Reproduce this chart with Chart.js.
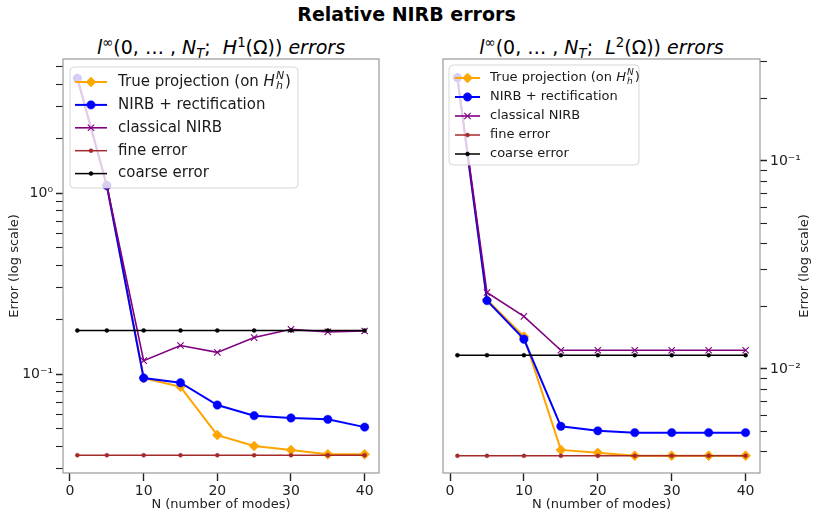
<!DOCTYPE html>
<html>
<head>
<meta charset="utf-8">
<script src="https://cdn.jsdelivr.net/npm/chart.js@4.4.1/dist/chart.umd.min.js"></script>
<style>
  html, body { margin: 0; padding: 0; background: #fff; }
  #wrap { position: relative; width: 813px; height: 518px; overflow: hidden; font-family: "DejaVu Sans", sans-serif; color: #000; }
  canvas { position: absolute; top: 0; }
  #c1 { left: 0; }
  #c2 { left: 410px; }
  .suptitle { position: absolute; left: 0; width: 813px; top: 3px; text-align: center; font-weight: bold; font-size: 19px; line-height: 22px; }
  .sub { position: absolute; top: 35px; text-align: center; font-size: 19px; line-height: 24px; white-space: nowrap; }
  .sub i { font-style: italic; }
  .sub sup { font-size: 70%; vertical-align: 0; position: relative; top: -0.55em; line-height: 0; }
  .sub sub { font-size: 70%; vertical-align: 0; position: relative; top: 0.3em; line-height: 0; }
</style>
</head>
<body>
<div id="wrap">
  <div class="suptitle">Relative NIRB errors</div>
  <div class="sub" style="left:63px;width:316px;"><i>l</i><sup>∞</sup>(0, … , <i>N<sub>T</sub></i>;&nbsp; <i>H</i><sup>1</sup>(Ω)) <i>errors</i></div>
  <div class="sub" style="left:443px;width:317px;"><i>l</i><sup>∞</sup>(0, … , <i>N<sub>T</sub></i>;&nbsp; <i>L</i><sup>2</sup>(Ω)) <i>errors</i></div>
  <canvas id="c1" width="410" height="518"></canvas>
  <canvas id="c2" width="403" height="518"></canvas>
</div>
<script>
// Number of modes N used for each run
const modes = [1, 5, 10, 15, 20, 25, 30, 35, 40];

// l-infinity in time, H1 in space
const trueH1    = [4.3, 1.1, 0.095, 0.085, 0.046, 0.040, 0.038, 0.036, 0.036];
const nirbH1    = [4.3, 1.1, 0.095, 0.0895, 0.0674, 0.0589, 0.0572, 0.0562, 0.0509];
const classicH1 = [4.3, 1.1, 0.1186, 0.1438, 0.1317, 0.159, 0.1766, 0.171, 0.173];
const fineH1    = [0.0356, 0.0356, 0.0356, 0.0356, 0.0356, 0.0356, 0.0356, 0.0356, 0.0356];
const coarseH1  = [0.174, 0.174, 0.174, 0.174, 0.174, 0.174, 0.174, 0.174, 0.174];

// l-infinity in time, L2 in space
const trueL2    = [0.251, 0.0215, 0.0143, 0.00408, 0.00395, 0.00383, 0.00383, 0.00383, 0.00383];
const nirbL2    = [0.251, 0.0213, 0.0139, 0.0053, 0.00504, 0.00494, 0.00494, 0.00494, 0.00494];
const classicL2 = [0.251, 0.0233, 0.0179, 0.0123, 0.0123, 0.0123, 0.0123, 0.0123, 0.0123];
const fineL2    = [0.00382, 0.00382, 0.00382, 0.00382, 0.00382, 0.00382, 0.00382, 0.00382, 0.00382];
const coarseL2  = [0.01164, 0.01164, 0.01164, 0.01164, 0.01164, 0.01164, 0.01164, 0.01164, 0.01164];

const seriesLabels = ['True projection (on H_h^N)', 'NIRB + rectification', 'classical NIRB', 'fine error', 'coarse error'];

// Axis ticks
const xTicks = [0, 10, 20, 30, 40];
const yTicksH1 = [0.03, 0.04, 0.05, 0.06, 0.07, 0.08, 0.09, 0.1, 0.2, 0.3, 0.4, 0.5, 0.6, 0.7, 0.8, 0.9, 1, 2, 3, 4, 5];
const yTicksL2 = [0.004, 0.005, 0.006, 0.007, 0.008, 0.009, 0.01, 0.02, 0.03, 0.04, 0.05, 0.06, 0.07, 0.08, 0.09, 0.1, 0.2, 0.3];
const decadeLabels = { '0': '10⁰', '-1': '10⁻¹', '-2': '10⁻²' };

const FONT = '"DejaVu Sans", sans-serif';

function isDecade(v) {
  const l = Math.log10(v);
  return Math.abs(l - Math.round(l)) < 1e-9;
}

function pts(ys) { return modes.map((n, i) => ({ x: n, y: ys[i] })); }

const styles = [
  { color: '#FFA500', lineW: 2,   pointStyle: 'rectRot', radius: 5,   pbw: 0.5, order: 5 },
  { color: '#0000FF', lineW: 2,   pointStyle: 'circle',  radius: 4.2, pbw: 0.5, order: 4 },
  { color: '#800080', lineW: 1.6, pointStyle: 'crossRot',radius: 4.5, pbw: 1.1, order: 3 },
  { color: '#A52A2A', lineW: 1.5, pointStyle: 'circle',  radius: 2,   pbw: 0.5, order: 2 },
  { color: '#000000', lineW: 1.5, pointStyle: 'circle',  radius: 2,   pbw: 0.5, order: 1 }
];

function makeDatasets(series) {
  return series.map((ys, i) => {
    const s = styles[i];
    return {
      label: seriesLabels[i],
      data: pts(ys),
      borderColor: s.color,
      backgroundColor: s.color,
      borderWidth: s.lineW,
      pointStyle: s.pointStyle,
      pointRadius: s.radius,
      pointBorderWidth: s.pbw,
      pointBorderColor: s.color,
      pointBackgroundColor: s.color,
      tension: 0,
      order: s.order
    };
  });
}

// Gray frame around the plotting area
const framePlugin = {
  id: 'frame',
  beforeDatasetsDraw(chart) {
    const { ctx, chartArea: a } = chart;
    ctx.save();
    ctx.strokeStyle = '#9a9a9a';
    ctx.lineWidth = 1.2;
    ctx.strokeRect(a.left, a.top, a.right - a.left, a.bottom - a.top);
    ctx.restore();
  }
};

// Rotated y axis title (reads bottom to top on both sides)
const yTitlePlugin = {
  id: 'yTitle',
  afterDraw(chart, args, opts) {
    const { ctx, chartArea: a } = chart;
    ctx.save();
    ctx.translate(opts.x, (a.top + a.bottom) / 2);
    ctx.rotate(-Math.PI / 2);
    ctx.font = '13px ' + FONT;
    ctx.fillStyle = '#222';
    ctx.textAlign = 'center';
    ctx.textBaseline = 'middle';
    ctx.fillText(opts.text, 0, 0);
    ctx.restore();
  }
};

function drawMarker(ctx, s, x, y) {
  ctx.save();
  ctx.fillStyle = s.color;
  ctx.strokeStyle = s.color;
  ctx.lineWidth = s.pbw;
  Chart.helpers.drawPoint(ctx, { pointStyle: s.pointStyle, radius: s.radius, rotation: 0, borderWidth: s.pbw }, x, y);
  ctx.restore();
}

// Semi-transparent legend box drawn over the data inside the plot area
const boxLegendPlugin = {
  id: 'boxLegend',
  afterDatasetsDraw(chart, args, o) {
    const { ctx, chartArea: a } = chart;
    const bx = a.left + o.dx, by = a.top + o.dy;
    ctx.save();
    ctx.beginPath();
    if (ctx.roundRect) ctx.roundRect(bx, by, o.w, o.h, 4); else ctx.rect(bx, by, o.w, o.h);
    ctx.fillStyle = 'rgba(255,255,255,0.8)';
    ctx.fill();
    ctx.strokeStyle = 'rgba(204,204,204,0.8)';
    ctx.lineWidth = 1;
    ctx.stroke();
    seriesLabels.forEach((label, i) => {
      const s = styles[i];
      const y = by + o.row0 + i * o.rowH;
      const x0 = bx + o.h0, x1 = bx + o.h1;
      ctx.strokeStyle = s.color;
      ctx.lineWidth = s.lineW;
      ctx.beginPath();
      ctx.moveTo(x0, y);
      ctx.lineTo(x1, y);
      ctx.stroke();
      drawMarker(ctx, s, (x0 + x1) / 2, y);
      ctx.fillStyle = '#1a1a1a';
      ctx.textBaseline = 'middle';
      ctx.textAlign = 'left';
      const tx = bx + o.tx;
      ctx.font = o.size + 'px ' + FONT;
      if (i === 0) {
        const head = 'True projection (on ';
        ctx.fillText(head, tx, y);
        let x = tx + ctx.measureText(head).width;
        ctx.font = 'italic ' + o.size + 'px ' + FONT;
        ctx.fillText('H', x, y);
        x += ctx.measureText('H').width + 1;
        const small = Math.round(o.size * 0.7);
        ctx.font = 'italic ' + small + 'px ' + FONT;
        ctx.fillText('N', x, y - o.size * 0.38);
        ctx.fillText('h', x, y + o.size * 0.28);
        x += ctx.measureText('N').width + 1;
        ctx.font = o.size + 'px ' + FONT;
        ctx.fillText(')', x, y);
      } else {
        ctx.fillText(label, tx, y);
      }
    });
    ctx.restore();
  }
};

function makeChart(canvasId, series, cfg) {
  const yLabel = (v) => {
    if (!isDecade(v)) return '';
    return decadeLabels[String(Math.round(Math.log10(v)))] || '';
  };
  return new Chart(document.getElementById(canvasId), {
    type: 'line',
    data: { datasets: makeDatasets(series) },
    plugins: [framePlugin, yTitlePlugin, boxLegendPlugin],
    options: {
      responsive: false,
      animation: false,
      devicePixelRatio: 1,
      layout: { padding: cfg.padding },
      plugins: {
        legend: { display: false },
        tooltip: { enabled: false },
        title: { display: false },
        yTitle: cfg.yTitle,
        boxLegend: cfg.legend
      },
      scales: {
        x: {
          type: 'linear',
          min: -0.95,
          max: 41.95,
          afterBuildTicks: (s) => { s.ticks = xTicks.map(v => ({ value: v })); },
          afterFit: (s) => { s.height = 45; },
          grid: { display: true, drawOnChartArea: false, drawTicks: true, tickLength: 8, tickColor: '#222', tickWidth: 1.4 },
          border: { display: false },
          ticks: { color: '#222', font: { family: FONT, size: 14 }, padding: 2, maxRotation: 0, autoSkip: false },
          title: { display: true, text: 'N (number of modes)', color: '#222', font: { family: FONT, size: 13 }, padding: { top: 0, bottom: 6 } }
        },
        y: {
          type: 'logarithmic',
          position: cfg.yPos,
          min: cfg.yMin,
          max: cfg.yMax,
          afterBuildTicks: (s) => { s.ticks = cfg.yTicks.map(v => ({ value: v, major: isDecade(v) })); },
          afterFit: (s) => { s.width = cfg.yWidth; },
          grid: {
            display: true, drawOnChartArea: false, drawTicks: true, tickLength: 7, tickColor: '#222',
            tickWidth: (c) => (c.tick && isDecade(c.tick.value)) ? 1.5 : 1.1
          },
          border: { display: false },
          ticks: { color: '#222', font: { family: FONT, size: 14 }, padding: 3, autoSkip: false, callback: yLabel },
          title: { display: false }
        }
      }
    }
  });
}

makeChart('c1', [trueH1, nirbH1, classicH1, fineH1, coarseH1], {
  yPos: 'left', yMin: 0.0284, yMax: 5.5, yTicks: yTicksH1, yWidth: 63,
  padding: { top: 59, right: 31, left: 0, bottom: 0 },
  yTitle: { x: 15, text: 'Error (log scale)' },
  legend: { dx: 7, dy: 8, w: 228, h: 121, row0: 15, rowH: 22.9, h0: 5, h1: 37, tx: 48, size: 15 }
});

makeChart('c2', [trueL2, nirbL2, classicL2, fineL2, coarseL2], {
  yPos: 'right', yMin: 0.00316, yMax: 0.309, yTicks: yTicksL2, yWidth: 53,
  padding: { top: 59, right: 0, left: 33, bottom: 0 },
  yTitle: { x: 395, text: 'Error (log scale)' },
  legend: { dx: 6, dy: 6, w: 190, h: 100, row0: 13, rowH: 19, h0: 6, h1: 31, tx: 41, size: 13 }
});
</script>
</body>
</html>
